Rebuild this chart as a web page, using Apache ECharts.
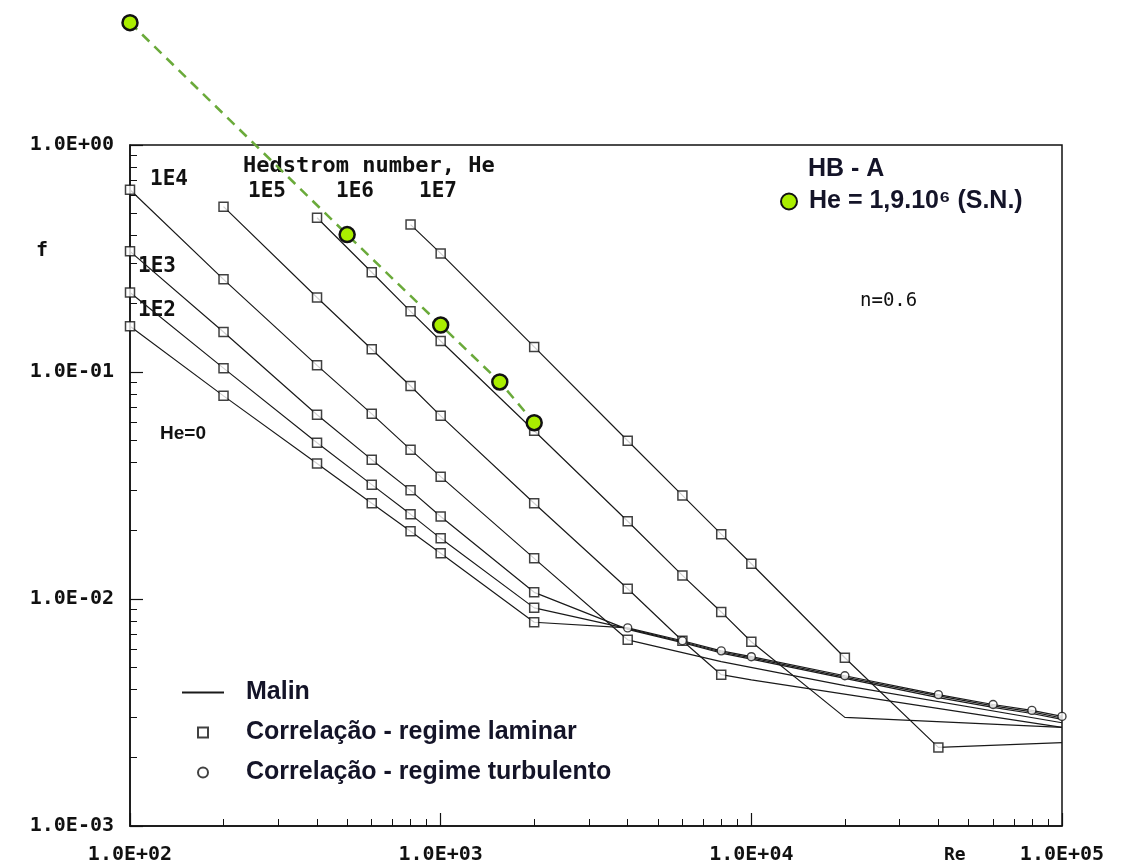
<!DOCTYPE html>
<html>
<head>
<meta charset="utf-8">
<script src="https://cdn.jsdelivr.net/npm/echarts@6/dist/echarts.min.js"></script>
<style>
  html, body { margin: 0; padding: 0; background: #fff; }
  #chart { width: 1124px; height: 865px; }
</style>
</head>
<body>
<div id="chart"></div>
<script>
// ---------------- DATA ----------------
// Axis ticks
const xMajorTicks = [100, 1000, 10000, 100000];
const xMinorTicks = [200,300,400,500,600,700,800,900,2000,3000,4000,5000,6000,7000,8000,9000,20000,30000,40000,50000,60000,70000,80000,90000];
const yMajorTicks = [0.001, 0.01, 0.1, 1];
const yMinorTicks = [0.002,0.003,0.004,0.005,0.006,0.007,0.008,0.009,0.02,0.03,0.04,0.05,0.06,0.07,0.08,0.09,0.2,0.3,0.4,0.5,0.6,0.7,0.8,0.9];

// Malin curves (Re, f) for each Hedstrom number
const malin_He0_re = [100,200,400,600,800,1000,2000,4000,6000,8000,10000,20000,40000,60000,80000,100000];
const malin_He0_f  = [0.159,0.0785,0.0395,0.0264,0.0199,0.0159,0.0079,0.00746,0.00655,0.00591,0.00557,0.00459,0.00379,0.00343,0.00323,0.00304];
const malin_1E2_re = [100,200,400,600,800,1000,2000,4000,6000,8000,10000,20000,40000,60000,80000,100000];
const malin_1E2_f  = [0.224,0.104,0.0488,0.0319,0.0236,0.0185,0.00914,0.00740,0.00648,0.00584,0.00550,0.00453,0.00374,0.00338,0.00318,0.00299];
const malin_1E3_re = [100,200,400,600,800,1000,2000,4000,6000,8000,10000,20000,40000,60000,80000,100000];
const malin_1E3_f  = [0.340,0.150,0.0648,0.0411,0.0301,0.0231,0.0107,0.00735,0.00642,0.00578,0.00543,0.00447,0.00368,0.00333,0.00313,0.00295];
const malin_1E4_re = [100,200,400,600,800,1000,2000,4000,8000,20000,100000];
const malin_1E4_f  = [0.635,0.256,0.107,0.0654,0.0455,0.0346,0.0151,0.00661,0.00530,0.00415,0.00285];
const malin_1E5_re = [200,400,600,800,1000,2000,4000,6000,8000,10000,100000];
const malin_1E5_f  = [0.535,0.213,0.126,0.0868,0.0641,0.0264,0.0111,0.00655,0.00464,0.00440,0.00272];
const malin_1E6_re = [400,600,800,1000,2000,4000,6000,8000,10000,20000,100000];
const malin_1E6_f  = [0.478,0.275,0.185,0.137,0.0551,0.0220,0.0127,0.00877,0.00648,0.00301,0.00272];
const malin_1E7_re = [800,1000,2000,4000,6000,8000,10000,20000,40000,100000];
const malin_1E7_f  = [0.446,0.333,0.129,0.0498,0.0286,0.0193,0.0143,0.00551,0.00222,0.00233];

// Laminar correlation points (squares)
const lam_He0_re = [100,200,400,600,800,1000,2000];
const lam_He0_f  = [0.159,0.0785,0.0395,0.0264,0.0199,0.0159,0.0079];
const lam_1E2_re = [100,200,400,600,800,1000,2000];
const lam_1E2_f  = [0.224,0.104,0.0488,0.0319,0.0236,0.0185,0.00914];
const lam_1E3_re = [100,200,400,600,800,1000,2000];
const lam_1E3_f  = [0.340,0.150,0.0648,0.0411,0.0301,0.0231,0.0107];
const lam_1E4_re = [100,200,400,600,800,1000,2000,4000];
const lam_1E4_f  = [0.635,0.256,0.107,0.0654,0.0455,0.0346,0.0151,0.00661];
const lam_1E5_re = [200,400,600,800,1000,2000,4000,6000,8000];
const lam_1E5_f  = [0.535,0.213,0.126,0.0868,0.0641,0.0264,0.0111,0.00655,0.00464];
const lam_1E6_re = [400,600,800,1000,2000,4000,6000,8000,10000];
const lam_1E6_f  = [0.478,0.275,0.185,0.137,0.0551,0.0220,0.0127,0.00877,0.00648];
const lam_1E7_re = [800,1000,2000,4000,6000,8000,10000,20000,40000];
const lam_1E7_f  = [0.446,0.333,0.129,0.0498,0.0286,0.0193,0.0143,0.00551,0.00222];

// Turbulent correlation points (circles)
const turb_re = [4000,6000,8000,10000,20000,40000,60000,80000,100000];
const turb_f  = [0.00746,0.00655,0.00591,0.00557,0.00459,0.00379,0.00343,0.00323,0.00304];

// Experimental HB - A, He = 1,9.10^6 (S.N.)
const hb_re = [100, 500, 1000, 1550, 2000];
const hb_f  = [3.46, 0.403, 0.161, 0.0904, 0.0598];

// ---------------- CHART ----------------
const zip = (a, b) => a.map((v, i) => [v, b[i]]);
const sci = v => {
  const e = Math.round(Math.log10(v));
  return '1.0E' + (e < 0 ? '-' : '+') + String(Math.abs(e)).padStart(2, '0');
};
const MONO = '"DejaVu Sans Mono", monospace';
const SANS = '"Liberation Sans", Arial, sans-serif';

const malinCurves = [
  [malin_He0_re, malin_He0_f], [malin_1E2_re, malin_1E2_f], [malin_1E3_re, malin_1E3_f],
  [malin_1E4_re, malin_1E4_f], [malin_1E5_re, malin_1E5_f], [malin_1E6_re, malin_1E6_f],
  [malin_1E7_re, malin_1E7_f]
];
const lamSets = [
  [lam_He0_re, lam_He0_f], [lam_1E2_re, lam_1E2_f], [lam_1E3_re, lam_1E3_f],
  [lam_1E4_re, lam_1E4_f], [lam_1E5_re, lam_1E5_f], [lam_1E6_re, lam_1E6_f],
  [lam_1E7_re, lam_1E7_f]
];

const series = [];
malinCurves.forEach(([re, f]) => {
  series.push({
    name: 'Malin', type: 'line', data: zip(re, f), symbol: 'none',
    lineStyle: { color: '#1a1a1a', width: 1.2 }, itemStyle: { color: '#1a1a1a' },
    z: 2, silent: true, animation: false
  });
});
const lamData = [];
lamSets.forEach(([re, f]) => zip(re, f).forEach(p => lamData.push(p)));
series.push({
  name: 'Correlação - regime laminar', type: 'scatter', data: lamData,
  symbol: 'rect', symbolSize: 9,
  itemStyle: { color: '#ffffff', borderColor: '#111', borderWidth: 1.5 },
  z: 3, animation: false
});
series.push({
  name: 'Correlação - regime turbulento', type: 'scatter', data: zip(turb_re, turb_f),
  symbol: 'circle', symbolSize: 8,
  itemStyle: { color: '#ffffff', borderColor: '#111', borderWidth: 1.4 },
  z: 3, animation: false
});
series.push({
  name: 'He = 1,9.10⁶ (S.N.)', type: 'line', data: zip(hb_re, hb_f),
  clip: false, symbol: 'circle', symbolSize: 15, showSymbol: true,
  lineStyle: { color: '#6aaa3a', width: 2.5, type: [10, 7] },
  itemStyle: { color: '#aaee00', borderColor: '#111', borderWidth: 2.5 },
  z: 5, animation: false
});

const option = {
  backgroundColor: '#ffffff',
  animation: false,
  grid: { left: 130, right: 62, top: 145, bottom: 37, show: true, borderColor: '#111', borderWidth: 1.5, containLabel: false },
  xAxis: [
    {
      type: 'log', logBase: 10, min: 100, max: 100000,
      axisLine: { show: true, lineStyle: { color: '#111', width: 1.5 } },
      axisTick: { show: true, inside: true, length: 13, lineStyle: { color: '#111', width: 1.2 }, customValues: xMajorTicks },
      axisLabel: { show: true, margin: 19, customValues: xMajorTicks, formatter: sci, fontFamily: MONO, fontWeight: 'bold', fontSize: 20, color: '#111' },
      splitLine: { show: false }
    },
    {
      type: 'log', logBase: 10, min: 100, max: 100000, position: 'bottom',
      axisLine: { show: false },
      axisTick: { show: true, inside: true, length: 7, lineStyle: { color: '#111', width: 1 }, customValues: xMinorTicks },
      axisLabel: { show: false },
      splitLine: { show: false }
    }
  ],
  yAxis: [
    {
      type: 'log', logBase: 10, min: 0.001, max: 1,
      axisLine: { show: true, lineStyle: { color: '#111', width: 1.5 } },
      axisTick: { show: true, inside: true, length: 13, lineStyle: { color: '#111', width: 1.2 }, customValues: yMajorTicks },
      axisLabel: { show: true, margin: 16, customValues: yMajorTicks, formatter: sci, fontFamily: MONO, fontWeight: 'bold', fontSize: 20, color: '#111' },
      splitLine: { show: false }
    },
    {
      type: 'log', logBase: 10, min: 0.001, max: 1, position: 'left',
      axisLine: { show: false },
      axisTick: { show: true, inside: true, length: 7, lineStyle: { color: '#111', width: 1 }, customValues: yMinorTicks },
      axisLabel: { show: false },
      splitLine: { show: false }
    }
  ],
  legend: [
    {
      left: 177, top: 675, orient: 'vertical', itemGap: 15, itemWidth: 42, itemHeight: 10,
      selectedMode: false,
      data: [
        { name: 'Malin', icon: 'path://M0,0 L40,0 L40,2 L0,2 Z' },
        { name: 'Correlação - regime laminar', icon: 'path://M0,0 L10,0 L10,10 L0,10 Z' },
        { name: 'Correlação - regime turbulento', icon: 'circle' }
      ],
      textStyle: { fontFamily: SANS, fontWeight: 'bold', fontSize: 25, color: '#141428', padding: [0, 0, 0, 17] }
    },
    {
      left: 775, top: 184, orient: 'vertical', itemWidth: 16, itemHeight: 16,
      selectedMode: false,
      data: [{ name: 'He = 1,9.10⁶ (S.N.)', icon: 'circle' }],
      textStyle: { fontFamily: SANS, fontWeight: 'bold', fontSize: 25, color: '#141428', padding: [0, 0, 0, 7] }
    }
  ],
  graphic: [
    { type: 'text', left: 808, top: 157, style: { text: 'HB - A', font: 'bold 25px ' + SANS, fill: '#141428' } },
    { type: 'text', left: 243, top: 155, style: { text: 'Hedstrom number, He', font: 'bold 22px ' + MONO, fill: '#111' } },
    { type: 'text', left: 150, top: 169, style: { text: '1E4', font: 'bold 21px ' + MONO, fill: '#111' } },
    { type: 'text', left: 248, top: 181, style: { text: '1E5', font: 'bold 21px ' + MONO, fill: '#111' } },
    { type: 'text', left: 336, top: 181, style: { text: '1E6', font: 'bold 21px ' + MONO, fill: '#111' } },
    { type: 'text', left: 419, top: 181, style: { text: '1E7', font: 'bold 21px ' + MONO, fill: '#111' } },
    { type: 'text', left: 138, top: 256, style: { text: '1E3', font: 'bold 21px ' + MONO, fill: '#111' } },
    { type: 'text', left: 138, top: 300, style: { text: '1E2', font: 'bold 21px ' + MONO, fill: '#111' } },
    { type: 'text', left: 160, top: 424, style: { text: 'He=0', font: 'bold 19px ' + SANS, fill: '#111' } },
    { type: 'text', left: 860, top: 292, style: { text: 'n=0.6', font: '19px ' + MONO, fill: '#111' } },
    { type: 'text', left: 36, top: 241, style: { text: 'f', font: 'bold 20px ' + MONO, fill: '#111' } },
    { type: 'text', left: 944, top: 846, style: { text: 'Re', font: 'bold 18px ' + MONO, fill: '#111' } }
  ],
  series: series
};

const chart = echarts.init(document.getElementById('chart'), null, { renderer: 'canvas' });
chart.setOption(option);
</script>
</body>
</html>
